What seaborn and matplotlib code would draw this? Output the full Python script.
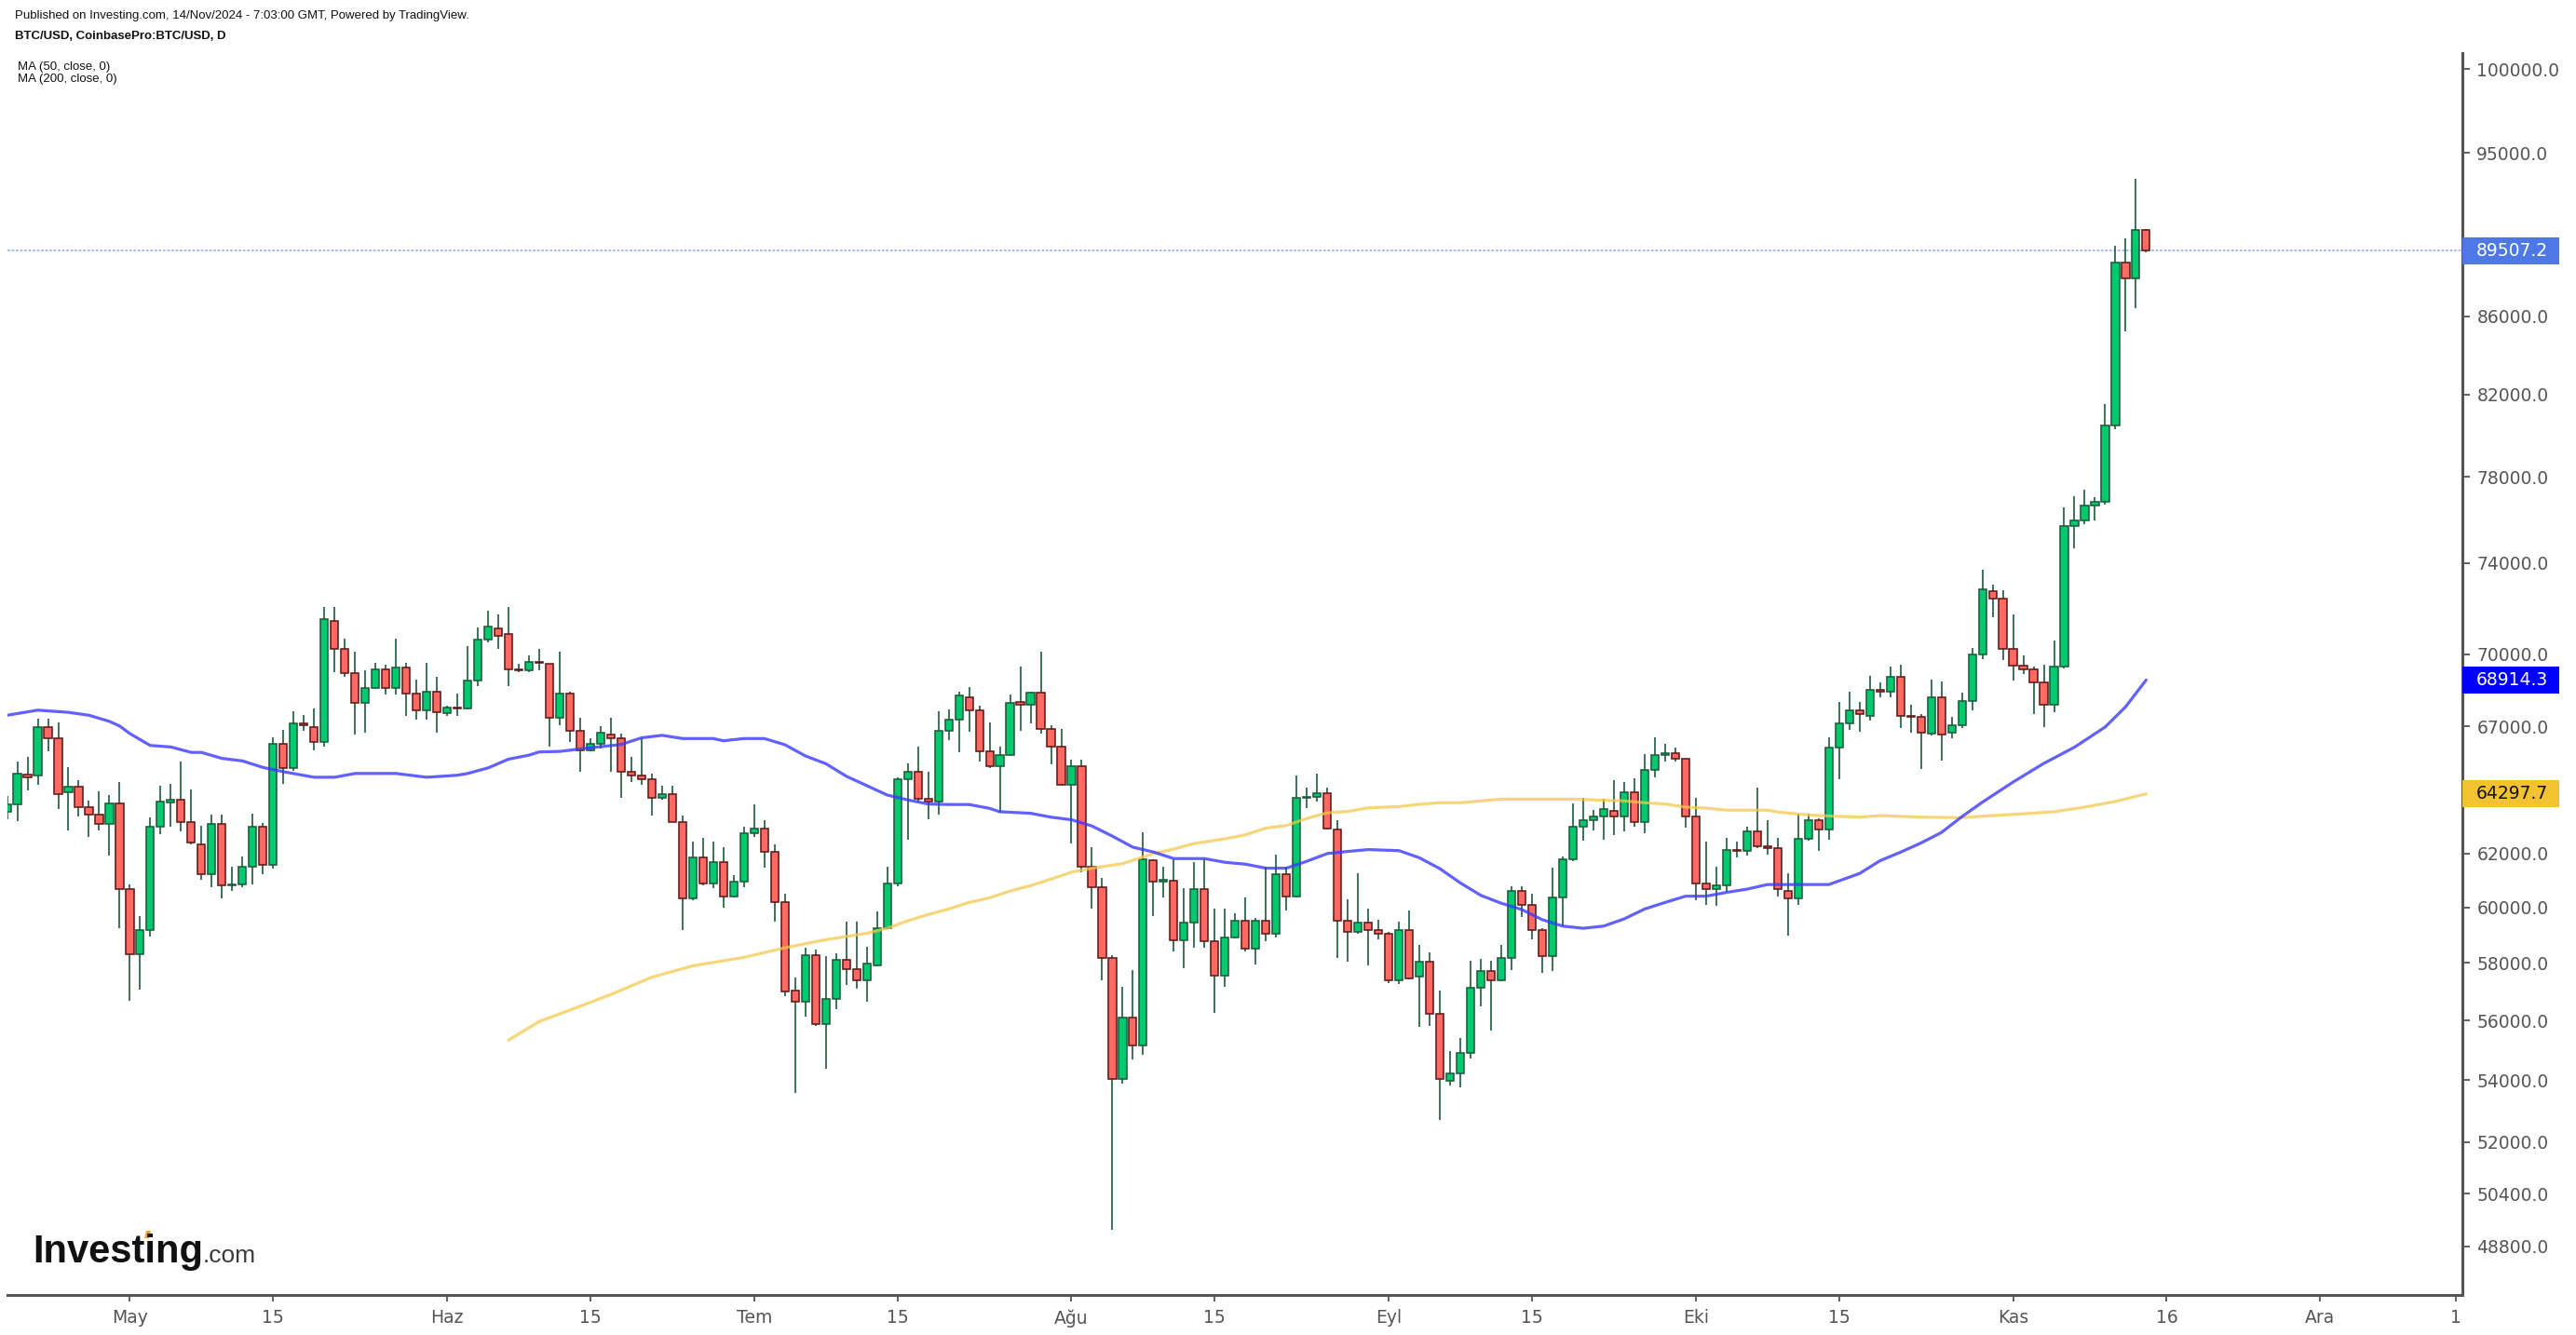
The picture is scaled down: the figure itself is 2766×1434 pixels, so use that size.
import numpy as np
import pandas as pd
import matplotlib
matplotlib.use("Agg")
import matplotlib.pyplot as plt
import matplotlib.transforms as mtransforms
from matplotlib.patches import Rectangle, Polygon
from matplotlib.ticker import FixedLocator, NullLocator, FixedFormatter
import seaborn as sns

# ---------------- DATA (BTC/USD daily, 19 Apr 2024 - 14 Nov 2024) ----------------
start_date = "2024-04-19"
end_date = "2024-11-14"

opens_apr = [63600, 63900, 65050, 65030, 66980, 66510, 64370, 64580, 63780, 63490, 63130, 63940]
highs_apr = [64200, 65570, 65750, 67300, 67300, 67160, 65350, 64820, 64030, 64390, 64240, 64760]
lows_apr = [63300, 63250, 64420, 64640, 65970, 63690, 62890, 63410, 62620, 62890, 61910, 59230]
closes_apr = [63900, 65100, 64950, 66980, 66510, 64300, 64580, 63760, 63490, 63130, 63940, 60670]

opens_may = [60670, 58300, 59170, 63010, 63950, 64070, 63210, 62350, 61220, 63130, 60820, 60850, 61510, 63010, 61570, 66280,
             65320, 67130, 66980, 66370, 71440, 70240, 69210, 67960, 68580, 69360, 68580, 69450, 68340, 67660, 68440]
highs_may = [60840, 59680, 63370, 64610, 64700, 65570, 64460, 63050, 63490, 63490, 61500, 61890, 63520, 63170, 66540, 66850,
             67610, 67450, 67720, 72040, 72040, 70670, 70110, 69320, 69620, 69560, 70670, 69620, 68930, 69620, 69060]
lows_may = [56680, 57060, 58950, 62750, 63010, 62830, 62350, 61020, 60730, 60320, 60600, 60730, 60840, 61210, 61420, 64700,
            65200, 66800, 66030, 66180, 69250, 69050, 66650, 66730, 68560, 68320, 68320, 67410, 67260, 67260, 66730]
closes_may = [58300, 59170, 63010, 64000, 64050, 63210, 62420, 61220, 63130, 60820, 60840, 61510, 63010, 61570, 66280, 65320,
              67130, 67060, 66370, 71540, 70240, 69210, 67960, 68580, 69360, 68580, 69450, 68340, 67660, 68440, 67570]

opens_jun = [67540, 67760, 67740, 68900, 70640, 71130, 70880, 69380, 69340, 69690, 69600, 67340, 68340, 66810, 66040,
             66270, 66680, 66530, 65170, 65030, 64880, 64150, 64300, 63210, 60320, 61860, 60870, 61680, 60410, 60960]
highs_jun = [67850, 68340, 70350, 71160, 71880, 71730, 72040, 69600, 69960, 70240, 69600, 70110, 68440, 67360, 66530,
             67010, 67360, 66700, 65750, 66530, 65100, 64600, 64600, 63450, 62450, 62600, 62450, 62240, 61200, 63010]
lows_jun = [67440, 67410, 67700, 68650, 70530, 70220, 68650, 69250, 69250, 69330, 66180, 67030, 66350, 65150, 65970,
            66100, 65150, 64130, 64760, 64640, 63470, 64050, 63200, 59170, 60250, 60800, 60690, 59990, 60350, 60730]
closes_jun = [67760, 67740, 68900, 70640, 71210, 70800, 69360, 69330, 69690, 69640, 67340, 68340, 66810, 66040, 66270,
              66750, 66520, 65170, 65030, 64880, 64150, 64300, 63210, 60320, 61860, 60870, 61680, 60410, 60960, 62770]

opens_jul = [62760, 62950, 62060, 60180, 57050, 56660, 58290, 55890, 56740, 58100, 57780, 57380, 57900, 59240, 60870, 64870,
             65160, 64110, 63990, 66820, 67280, 68190, 67670, 65980, 65400, 65840, 68000, 67900, 68370, 66880, 66190]
highs_jul = [63880, 63280, 62330, 60500, 57500, 58530, 58470, 58260, 58340, 59470, 59470, 58590, 59850, 61520, 64950, 65490,
             66170, 65160, 67610, 67680, 68420, 68600, 67830, 67150, 66170, 68300, 69500, 68420, 70100, 67030, 66900]
lows_jul = [62620, 61460, 59480, 56830, 53590, 56150, 55830, 54380, 56380, 57220, 57100, 56660, 57880, 59200, 60790, 62520,
            64010, 63320, 63480, 66420, 65940, 66770, 65590, 65300, 63560, 65800, 66830, 67120, 66700, 65450, 64600]
closes_jul = [62950, 62060, 60180, 56990, 56660, 58290, 55890, 56740, 58100, 57780, 57380, 57970, 59240, 60870, 64870, 65160,
              64110, 63990, 66820, 67280, 68260, 67670, 65980, 65400, 65840, 67970, 67900, 68370, 66880, 66190, 64650]

opens_aug = [64650, 65380, 61520, 60740, 58190, 54050, 56110, 55150, 61750, 60950, 61000, 58800, 59460, 60670, 58770, 57560,
             58910, 59510, 58500, 59510, 59040, 61230, 60390, 64130, 64180, 64330, 62900, 59500, 59100, 59460, 59180]
highs_aug = [65640, 65640, 62240, 61090, 58290, 57160, 57750, 62810, 61800, 61520, 61800, 60700, 61690, 61800, 59950, 59950,
             59780, 60350, 59600, 61520, 61950, 61520, 65030, 64540, 65080, 64540, 63290, 60290, 61260, 59950, 59550]
lows_aug = [62400, 61310, 59970, 57380, 49300, 53900, 54700, 54860, 59690, 60380, 58420, 57830, 58530, 58530, 56260, 57160,
            58880, 58400, 57960, 58770, 58920, 59900, 60350, 63730, 63980, 62900, 58190, 58060, 59050, 57900, 58830]
closes_aug = [65380, 61520, 60740, 58190, 54050, 56110, 55150, 61800, 60950, 61020, 58800, 59460, 60670, 58770, 57560, 58910,
              59510, 58500, 59510, 59040, 61230, 60390, 64130, 64170, 64330, 62950, 59510, 59100, 59460, 59180, 59040]

opens_sep = [59040, 57380, 59190, 57520, 58060, 56230, 53990, 54220, 54920, 57140, 57730, 57400, 58190, 60610, 60080,
             59170, 58250, 60350, 61790, 63010, 63290, 63420, 63650, 63420, 64370, 63210, 65250, 65850, 65900, 65700]
highs_sep = [59100, 59480, 59880, 58640, 58390, 57030, 54960, 55420, 58090, 58150, 58090, 58640, 60780, 60780, 60490,
             59250, 61460, 61890, 63940, 64150, 63660, 64100, 64820, 64760, 64900, 65880, 66540, 66300, 66150, 65700]
lows_sep = [57280, 57250, 57440, 55780, 55830, 52700, 53830, 53780, 54720, 56500, 55650, 57350, 57760, 59640, 58830,
            57660, 57720, 59300, 61700, 62480, 62890, 62540, 62700, 62830, 63030, 62790, 64940, 65570, 65570, 62970]
closes_sep = [57380, 59190, 57460, 58060, 56230, 54040, 54220, 54920, 57140, 57730, 57400, 58190, 60610, 60080, 59170,
              58250, 60350, 61790, 63010, 63290, 63420, 63720, 63420, 64370, 63210, 65250, 65840, 65900, 65700, 63420]

opens_oct = [63420, 60870, 60670, 60820, 62150, 62100, 62850, 62270, 62200, 60610, 60320, 62570, 63290, 62930, 66140, 67130,
             67660, 67430, 68500, 68430, 69060, 67420, 67400, 66700, 68190, 66750, 67040, 68050, 70000, 72740, 72420]
highs_oct = [64150, 62450, 61490, 62600, 62450, 63010, 64540, 63290, 62600, 61270, 63520, 63520, 63340, 66540, 68000, 68440,
             68000, 69090, 68800, 69470, 69550, 67900, 67500, 68930, 68860, 67400, 68390, 70280, 73690, 73030, 72780]
lows_oct = [60270, 60090, 60040, 60580, 61840, 61910, 62200, 61960, 60400, 58980, 60090, 62500, 62110, 62540, 64870, 66850,
            66790, 67240, 68180, 68180, 66930, 66730, 65290, 66630, 65620, 66500, 66930, 67640, 69810, 71590, 69750]
closes_oct = [60870, 60670, 60820, 62140, 62100, 62850, 62270, 62200, 60670, 60320, 62570, 63290, 62930, 66140, 67130, 67660,
              67510, 68510, 68420, 69060, 67420, 67400, 66750, 68190, 66680, 67040, 68050, 70000, 72840, 72420, 70240]

opens_nov = [70240, 69520, 69370, 68820, 67900, 69470, 75700, 75960, 76640, 76820, 80470, 88850, 88030, 90660]
highs_nov = [71730, 69950, 69500, 69560, 70600, 76570, 77100, 77380, 77050, 81510, 89780, 90200, 93540, 90700]
lows_nov = [68890, 69170, 67500, 66960, 67560, 69400, 74660, 75760, 75950, 76700, 80300, 85220, 86420, 89450]
closes_nov = [69520, 69370, 68820, 67900, 69470, 75700, 75960, 76640, 76820, 80470, 88850, 88030, 90660, 89507.2]

ma50_dates = ["2024-04-19", "2024-04-22", "2024-04-25", "2024-04-27", "2024-04-29", "2024-04-30", "2024-05-01",
              "2024-05-03", "2024-05-05", "2024-05-07", "2024-05-08", "2024-05-10", "2024-05-12", "2024-05-14",
              "2024-05-16", "2024-05-19", "2024-05-21", "2024-05-23", "2024-05-27", "2024-05-30", "2024-06-02",
              "2024-06-03", "2024-06-05", "2024-06-07", "2024-06-09", "2024-06-10", "2024-06-12", "2024-06-14",
              "2024-06-16", "2024-06-18", "2024-06-20", "2024-06-22", "2024-06-24", "2024-06-27", "2024-06-28",
              "2024-06-30", "2024-07-02", "2024-07-04", "2024-07-06", "2024-07-08", "2024-07-10", "2024-07-12",
              "2024-07-14", "2024-07-16", "2024-07-18", "2024-07-20", "2024-07-22", "2024-07-24", "2024-07-25",
              "2024-07-28", "2024-07-30", "2024-08-01", "2024-08-03", "2024-08-05", "2024-08-07", "2024-08-09",
              "2024-08-11", "2024-08-14", "2024-08-16", "2024-08-18", "2024-08-20", "2024-08-22", "2024-08-24",
              "2024-08-26", "2024-08-28", "2024-08-30", "2024-09-02", "2024-09-04", "2024-09-06", "2024-09-08",
              "2024-09-10", "2024-09-12", "2024-09-14", "2024-09-16", "2024-09-18", "2024-09-20", "2024-09-22",
              "2024-09-24", "2024-09-26", "2024-09-28", "2024-09-30", "2024-10-02", "2024-10-04", "2024-10-06",
              "2024-10-08", "2024-10-10", "2024-10-14", "2024-10-17", "2024-10-19", "2024-10-21", "2024-10-23",
              "2024-10-25", "2024-10-27", "2024-10-29", "2024-11-01", "2024-11-04", "2024-11-07", "2024-11-10",
              "2024-11-12", "2024-11-14"]
ma50_values = [67450, 67660, 67570, 67450, 67200, 67010, 66700, 66220, 66160, 65940, 65940, 65700, 65600, 65340,
               65170, 64950, 64950, 65100, 65100, 64950, 65030, 65100, 65320, 65670, 65830, 65960, 65980, 66080,
               66170, 66260, 66530, 66630, 66500, 66500, 66410, 66500, 66500, 66250, 65800, 65490, 64990, 64620,
               64250, 64060, 63900, 63880, 63880, 63730, 63600, 63540, 63390, 63290, 63050, 62660, 62240, 62060,
               61810, 61810, 61670, 61600, 61450, 61450, 61710, 62000, 62080, 62150, 62110, 61840, 61430, 60900,
               60440, 60150, 59920, 59550, 59320, 59240, 59320, 59580, 59940, 60180, 60410, 60410, 60550, 60670,
               60840, 60840, 60840, 61250, 61730, 62050, 62400, 62800, 63410, 63970, 64760, 65500, 66150, 66970,
               67800, 68914.3]

ma200_dates = ["2024-06-07", "2024-06-10", "2024-06-13", "2024-06-17", "2024-06-21", "2024-06-25", "2024-06-30",
               "2024-07-04", "2024-07-08", "2024-07-12", "2024-07-14", "2024-07-16", "2024-07-18", "2024-07-20",
               "2024-07-22", "2024-07-24", "2024-07-26", "2024-07-28", "2024-07-30", "2024-08-01", "2024-08-03",
               "2024-08-06", "2024-08-09", "2024-08-11", "2024-08-13", "2024-08-16", "2024-08-18", "2024-08-20",
               "2024-08-22", "2024-08-24", "2024-08-26", "2024-08-28", "2024-08-30", "2024-09-02", "2024-09-04",
               "2024-09-06", "2024-09-08", "2024-09-10", "2024-09-12", "2024-09-19", "2024-09-24", "2024-09-26",
               "2024-09-28", "2024-09-30", "2024-10-02", "2024-10-04", "2024-10-08", "2024-10-09", "2024-10-11",
               "2024-10-13", "2024-10-17", "2024-10-19", "2024-10-23", "2024-10-27", "2024-10-30", "2024-11-02",
               "2024-11-05", "2024-11-08", "2024-11-11", "2024-11-14"]
ma200_values = [55340, 55970, 56360, 56900, 57500, 57900, 58200, 58540, 58830, 59060, 59240, 59510, 59740, 59940,
                60180, 60350, 60600, 60800, 61040, 61300, 61450, 61620, 62000, 62170, 62380, 62560, 62710, 62970,
                63070, 63340, 63560, 63610, 63750, 63800, 63890, 63950, 63950, 64020, 64090, 64090, 64020, 63950,
                63900, 63780, 63740, 63660, 63660, 63590, 63510, 63450, 63390, 63450, 63390, 63370, 63450, 63520,
                63600, 63780, 64000, 64297.7]

last_price = 89507.2
ma50_last = 68914.3
ma200_last = 64297.7

y_ticks = [100000, 95000, 86000, 82000, 78000, 74000, 70000, 67000, 62000, 60000, 58000, 56000, 54000, 52000, 50400, 48800]
x_tick_dates = ["2024-05-01", "2024-05-15", "2024-06-01", "2024-06-15", "2024-07-01", "2024-07-15", "2024-08-01",
                "2024-08-15", "2024-09-01", "2024-09-15", "2024-10-01", "2024-10-15", "2024-11-01", "2024-11-16",
                "2024-12-01", "2024-12-14"]
x_tick_labels = ["May", "15", "Haz", "15", "Tem", "15", "Ağu", "15", "Eyl", "15", "Eki", "15", "Kas", "16", "Ara", "1"]

# ---------------- BUILD ----------------
ref = pd.Timestamp("2024-05-01")
dates = pd.date_range(start_date, end_date, freq="D")
df = pd.DataFrame({
    "date": dates,
    "open": opens_apr + opens_may + opens_jun + opens_jul + opens_aug + opens_sep + opens_oct + opens_nov,
    "high": highs_apr + highs_may + highs_jun + highs_jul + highs_aug + highs_sep + highs_oct + highs_nov,
    "low": lows_apr + lows_may + lows_jun + lows_jul + lows_aug + lows_sep + lows_oct + lows_nov,
    "close": closes_apr + closes_may + closes_jun + closes_jul + closes_aug + closes_sep + closes_oct + closes_nov,
})
df["x"] = (df["date"] - ref).dt.days.astype(float)
df["high"] = df[["high", "open", "close"]].max(axis=1)
df["low"] = df[["low", "open", "close"]].min(axis=1)

ma50 = pd.DataFrame({"x": (pd.to_datetime(ma50_dates) - ref).days.astype(float), "v": ma50_values})
ma200 = pd.DataFrame({"x": (pd.to_datetime(ma200_dates) - ref).days.astype(float), "v": ma200_values})

sns.set_theme(style="white")
plt.rcParams["font.family"] = ["DejaVu Sans"]

W, H = 2766, 1434
fig = plt.figure(figsize=(W / 100, H / 100), dpi=100, facecolor="white")
ax_left, ax_right, ax_top, ax_bottom = 8, 2644, 57, 1391
ax = fig.add_axes([ax_left / W, 1 - ax_bottom / H, (ax_right - ax_left) / W, (ax_bottom - ax_top) / H])
ax.set_facecolor("white")

GREEN = "#00c96e"
GREEN_EDGE = "#1e5a3c"
RED = "#ff6961"
RED_EDGE = "#5e1a1a"
WICK = "#1e5a3c"

up = df["close"] >= df["open"]
dn = ~up
ax.vlines(df["x"], df["low"], df["high"], color=WICK, linewidth=1.2, zorder=2)
bw = 0.74
ax.bar(df.loc[up, "x"], (df.loc[up, "close"] - df.loc[up, "open"]).clip(lower=1), bottom=df.loc[up, "open"],
       width=bw, color=GREEN, edgecolor=GREEN_EDGE, linewidth=1.15, zorder=3)
ax.bar(df.loc[dn, "x"], (df.loc[dn, "open"] - df.loc[dn, "close"]).clip(lower=1), bottom=df.loc[dn, "close"],
       width=bw, color=RED, edgecolor=RED_EDGE, linewidth=1.15, zorder=3)

sns.lineplot(data=ma200, x="x", y="v", ax=ax, color="#f5c84c", linewidth=2.3, alpha=0.75, zorder=4)
sns.lineplot(data=ma50, x="x", y="v", ax=ax, color="#3a3aff", linewidth=2.3, alpha=0.8, zorder=5)

ax.axhline(last_price, color="#9fb2f2", linewidth=1.3, linestyle=(0, (1.5, 1.0)), zorder=1)

ax.set_yscale("log")
ax.set_ylim(47380, 100970)
ax.set_xlim(-11.96, 227.9)
ax.set_xlabel("")
ax.set_ylabel("")

ax.yaxis.tick_right()
ax.yaxis.set_major_locator(FixedLocator(y_ticks))
ax.yaxis.set_major_formatter(FixedFormatter([f"{v:.1f}" for v in y_ticks]))
ax.yaxis.set_minor_locator(NullLocator())
ax.tick_params(axis="y", which="major", right=True, left=False, length=6, width=1.3, color="#555555",
               labelcolor="#555555", labelsize=13.5, pad=5)

xt = [(pd.Timestamp(d) - ref).days for d in x_tick_dates]
xt[-1] = 227.3
ax.set_xticks(xt)
ax.set_xticklabels(x_tick_labels)
ax.xaxis.set_minor_locator(NullLocator())
ax.tick_params(axis="x", which="major", bottom=True, length=5, width=1.3, color="#555555",
               labelcolor="#555555", labelsize=13.5, pad=6)

for s in ["left", "top"]:
    ax.spines[s].set_visible(False)
for s in ["right", "bottom"]:
    ax.spines[s].set_visible(True)
    ax.spines[s].set_color("#555555")
    ax.spines[s].set_linewidth(2.2)
ax.grid(False)

# price labels on the right axis
trans = mtransforms.blended_transform_factory(ax.transAxes, ax.transData)
axw = ax_right - ax_left
k = 1763.0
for val, fc, tc in [(last_price, "#4d78e6", "white"), (ma50_last, "#0000ff", "white"), (ma200_last, "#f2c230", "#111111")]:
    lo = val * np.exp(-14.5 / k)
    hi = val * np.exp(14.5 / k)
    r = Rectangle((1.0, lo), 104 / axw, hi - lo, transform=trans, facecolor=fc, edgecolor="none",
                  clip_on=False, zorder=6)
    ax.add_patch(r)
    ax.text(1.0 + 15 / axw, val, f"{val:.1f}", transform=trans, ha="left", va="center", color=tc,
            fontsize=13.5, clip_on=False, zorder=7)

# header texts
hdr = ["Liberation Sans", "DejaVu Sans"]
fig.text(16 / W, 1 - 17 / H, "Published on Investing.com, 14/Nov/2024 - 7:03:00 GMT, Powered by TradingView.",
         fontsize=9.5, family=hdr, color="#111111", va="center", ha="left")
fig.text(16 / W, 1 - 39 / H, "BTC/USD, CoinbasePro:BTC/USD, D", fontsize=9.5, family=hdr, weight="bold",
         color="#111111", va="center", ha="left")
fig.text(19 / W, 1 - 72 / H, "MA (50, close, 0)", fontsize=9.5, family=hdr, color="#111111", va="center", ha="left")
fig.text(19 / W, 1 - 85 / H, "MA (200, close, 0)", fontsize=9.5, family=hdr, color="#111111", va="center", ha="left")

# logo
logo = fig.text(35 / W, 1 - 1356 / H, "Investing", fontsize=30, family=hdr, weight="bold", color="#111111",
                va="baseline", ha="left")
renderer = fig.canvas.get_renderer()
bb = logo.get_window_extent(renderer=renderer)
fig.text(bb.x1 / W, 1 - 1356 / H, ".com", fontsize=19, family=hdr, color="#3a3a3a", va="baseline", ha="left")
ox, oy = 157, 1326
fig.add_artist(Polygon([[ (ox - 2) / W, 1 - (oy + 4) / H], [(ox + 3) / W, 1 - (oy + 4) / H],
                        [(ox + 5) / W, 1 - (oy - 4) / H], [(ox) / W, 1 - (oy - 4) / H]],
                       closed=True, transform=fig.transFigure, facecolor="#f7a21b", edgecolor="none"))

fig.savefig("out.png", dpi=100, facecolor="white")
